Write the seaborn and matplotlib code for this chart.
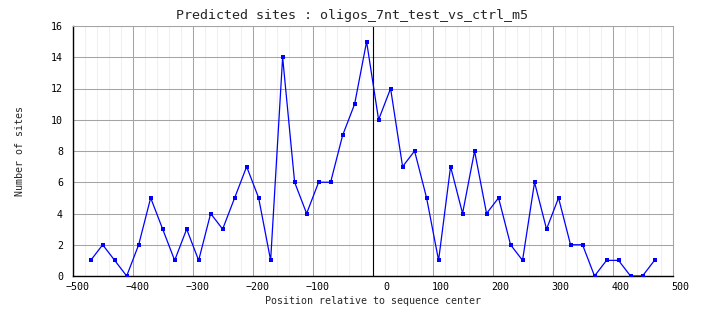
import matplotlib
matplotlib.use("Agg")
import matplotlib.pyplot as plt
import matplotlib.transforms as mtransforms
from matplotlib.ticker import MultipleLocator
import numpy as np
import pandas as pd
import seaborn as sns

positions = [-470, -450, -430, -410, -390, -370, -350, -330, -310, -290,
             -270, -250, -230, -210, -190, -170, -150, -130, -110, -90,
             -70, -50, -30, -10, 10, 30, 50, 70, 90, 110,
             130, 150, 170, 190, 210, 230, 250, 270, 290, 310,
             330, 350, 370, 390, 410, 430, 450, 470]
sites = [1, 2, 1, 0, 2, 5, 3, 1, 3, 1,
         4, 3, 5, 7, 5, 1, 14, 6, 4, 6,
         6, 9, 11, 15, 10, 12, 7, 8, 5, 1,
         7, 4, 8, 4, 5, 2, 1, 6, 3, 5,
         2, 2, 0, 1, 1, 0, 0, 1]
x_ticks = [-500, -400, -300, -200, -100, 0, 100, 200, 300, 400, 500]
y_ticks = [0, 2, 4, 6, 8, 10, 12, 14, 16]

title = "Predicted sites : oligos_7nt_test_vs_ctrl_m5"
xlabel = "Position relative to sequence center"
ylabel = "Number of sites"

df = pd.DataFrame({"pos": positions, "sites": sites})

sns.set_style("white")
plt.rcParams["font.family"] = ["DejaVu Sans Mono", "DejaVu Sans"]

fig = plt.figure(figsize=(7.04, 3.28), dpi=100)
ax = fig.add_axes([72.7 / 704, 1 - 276 / 328, (672.5 - 72.7) / 704, (276 - 26) / 328])

ax.set_xlim(-500, 500)
ax.set_ylim(0, 16)
ax.set_xticks(x_ticks)
ax.set_yticks(y_ticks)
ax.xaxis.set_minor_locator(MultipleLocator(20))
ax.grid(which="major", axis="both", color="#a4a4a4", linewidth=0.75)
ax.grid(which="minor", axis="x", color="#f0f0f0", linewidth=0.75)
ax.set_axisbelow(True)

ax.axvline(0, color="black", linewidth=0.8, zorder=2)

sns.lineplot(data=df, x="pos", y="sites", ax=ax, color="#0000ff",
             linewidth=0.9, marker="s", markersize=2.6, markeredgewidth=0,
             markerfacecolor="#0000ff", errorbar=None, sort=False, zorder=3)

for side in ["top", "right"]:
    ax.spines[side].set_color("#a4a4a4")
    ax.spines[side].set_linewidth(0.75)
for side in ["left", "bottom"]:
    ax.spines[side].set_color("black")
    ax.spines[side].set_linewidth(1.0)

ax.tick_params(axis="both", which="both", length=0, labelsize=7.2, colors="black")
ax.tick_params(axis="y", pad=7)
ax.tick_params(axis="x", pad=4)

offset = mtransforms.ScaledTranslation(17 / 100, 0, fig.dpi_scale_trans)
for lbl in ax.get_xticklabels():
    lbl.set_horizontalalignment("right")
    lbl.set_transform(lbl.get_transform() + offset)

ax.set_xlabel(xlabel, fontsize=7.2, labelpad=3)
ax.set_ylabel(ylabel, fontsize=7.2, labelpad=19)
fig.text(352 / 704, 1 - 16 / 328, title, ha="center", va="center", fontsize=9.6)

fig.savefig("out.png", dpi=100)
